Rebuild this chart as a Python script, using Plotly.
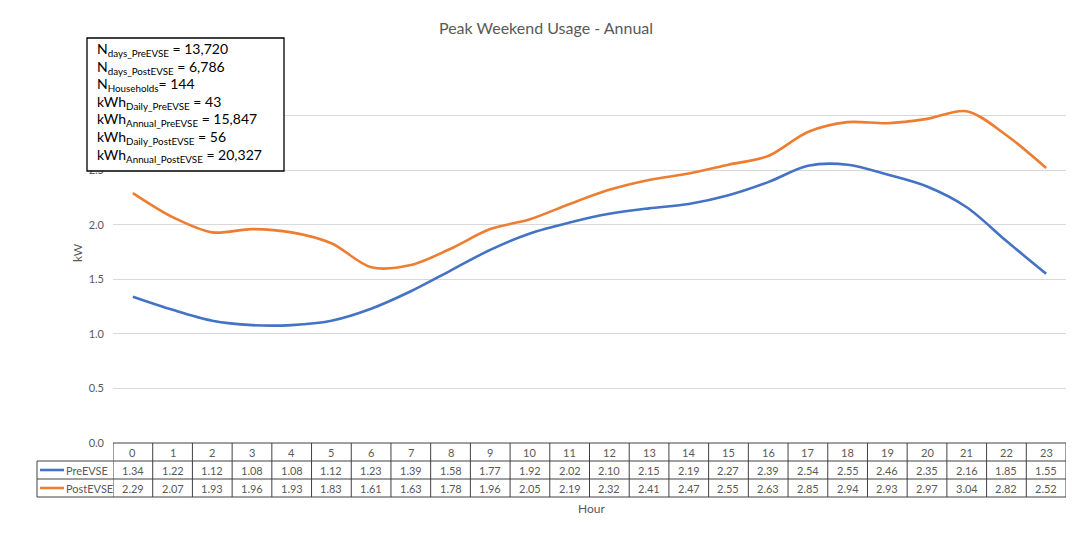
import plotly.graph_objects as go

hours = list(range(24))
pre_evse = [1.34, 1.22, 1.12, 1.08, 1.08, 1.12, 1.23, 1.39, 1.58, 1.77, 1.92, 2.02,
            2.10, 2.15, 2.19, 2.27, 2.39, 2.54, 2.55, 2.46, 2.35, 2.16, 1.85, 1.55]
post_evse = [2.29, 2.07, 1.93, 1.96, 1.93, 1.83, 1.61, 1.63, 1.78, 1.96, 2.05, 2.19,
             2.32, 2.41, 2.47, 2.55, 2.63, 2.85, 2.94, 2.93, 2.97, 3.04, 2.82, 2.52]
series_names = ["PreEVSE", "PostEVSE"]
series_colors = ["#4472C4", "#ED7D31"]
y_ticks = [0.0, 0.5, 1.0, 1.5, 2.0, 2.5, 3.0, 3.5]
info_lines = [
    "N<sub>days_PreEVSE</sub> = 13,720",
    "N<sub>days_PostEVSE</sub> = 6,786",
    "N<sub>Households</sub>= 144",
    "kWh<sub>Daily_PreEVSE</sub> = 43",
    "kWh<sub>Annual_PreEVSE</sub> = 15,847",
    "kWh<sub>Daily_PostEVSE</sub> = 56",
    "kWh<sub>Annual_PostEVSE</sub> = 20,327",
]

# page offset (browser body margin)
O = 8
W, H = 1077 - O, 538 - O
# reference pixel geometry
PL, PR, PT, PB = 113, 1066, 61, 443
L, R, T, B = PL - O, W - (PR - O), PT - O, H - (PB - O)
PW = W - L - R
PH = H - T - B
FONT = "Lato, 'Open Sans', sans-serif"
GREY = "#595959"

def px_x(px):
    return (px - PL) / PW

def px_y(py):
    return (PB - py) / PH

fig = go.Figure()
for name, vals, col in zip(series_names, [pre_evse, post_evse], series_colors):
    fig.add_trace(go.Scatter(x=hours, y=vals, mode="lines", name=name,
                             line=dict(color=col, width=2.6, shape="spline", smoothing=0.9),
                             showlegend=False))

shapes = []
annots = []
line_col = "#404040"
row_h = 18
rows_y = [PB, PB + row_h, PB + 2 * row_h, PB + 3 * row_h]
shapes.append(dict(type="line", xref="x", yref="paper", x0=-0.5, x1=23.5,
                   y0=px_y(rows_y[0]), y1=px_y(rows_y[0]), line=dict(color=line_col, width=1)))
for ry in rows_y[1:]:
    shapes.append(dict(type="line", xref="paper", yref="paper", x0=px_x(37), x1=1,
                       y0=px_y(ry), y1=px_y(ry), line=dict(color=line_col, width=1)))
shapes.append(dict(type="line", xref="paper", yref="paper", x0=px_x(37), x1=px_x(37),
                   y0=px_y(rows_y[1]), y1=px_y(rows_y[3]), line=dict(color=line_col, width=1)))
for i in range(25):
    shapes.append(dict(type="line", xref="x", yref="paper", x0=i - 0.5, x1=i - 0.5,
                       y0=px_y(rows_y[0]), y1=px_y(rows_y[3]), line=dict(color=line_col, width=1)))

cell_font = dict(family=FONT, size=11, color=GREY)
for i, h in enumerate(hours):
    annots.append(dict(x=h, y=px_y(rows_y[0] + row_h / 2), xref="x", yref="paper",
                       text=str(h), showarrow=False, xanchor="center", yanchor="middle",
                       font=cell_font))
    for r, vals in enumerate([pre_evse, post_evse]):
        annots.append(dict(x=h, y=px_y(rows_y[r + 1] + row_h / 2), xref="x", yref="paper",
                           text=f"{vals[i]:.2f}", showarrow=False, xanchor="center",
                           yanchor="middle", font=cell_font))
for r, (name, col) in enumerate(zip(series_names, series_colors)):
    cy = px_y(rows_y[r + 1] + row_h / 2)
    shapes.append(dict(type="line", xref="paper", yref="paper", x0=px_x(40), x1=px_x(64),
                       y0=cy, y1=cy, line=dict(color=col, width=2.6)))
    annots.append(dict(x=px_x(64), y=cy, xref="paper", yref="paper", text=name,
                       showarrow=False, xanchor="left", yanchor="middle", font=cell_font))

shapes.append(dict(type="rect", xref="paper", yref="paper", x0=px_x(87), x1=px_x(284),
                   y0=px_y(171), y1=px_y(38), line=dict(color="#000000", width=1.3),
                   fillcolor="white", layer="above"))
for k, t in enumerate(info_lines):
    annots.append(dict(x=px_x(95), y=px_y(50 + k * 17.5), xref="paper", yref="paper",
                       text=t, showarrow=False, xanchor="left", yanchor="middle",
                       font=dict(family=FONT, size=14, color="#000000")))

annots.append(dict(x=px_x(591), y=px_y(508), xref="paper", yref="paper", text="Hour",
                   showarrow=False, xanchor="center", yanchor="middle",
                   font=dict(family=FONT, size=12, color=GREY)))
annots.append(dict(x=px_x(77), y=px_y(253), xref="paper", yref="paper", text="kW",
                   showarrow=False, textangle=-90, xanchor="center", yanchor="middle",
                   font=dict(family=FONT, size=12, color=GREY)))

fig.update_layout(
    width=W, height=H,
    margin=dict(l=L, r=R, t=T, b=B, pad=0),
    paper_bgcolor="white", plot_bgcolor="white",
    title=dict(text="Peak Weekend Usage - Annual", x=(546 - O) / W, xanchor="center",
               y=1 - (28 - O) / H, yanchor="middle", font=dict(family=FONT, size=16, color=GREY)),
    xaxis=dict(range=[-0.5, 23.5], showticklabels=False, showgrid=False, zeroline=False,
               ticks="", showline=False),
    yaxis=dict(range=[0, 3.5], tickvals=y_ticks, tickformat=".1f", showgrid=True,
               gridcolor="#D9D9D9", gridwidth=1, zeroline=False, showline=False,
               ticks="", ticklabelstandoff=8,
               tickfont=dict(family=FONT, size=11, color=GREY)),
    shapes=shapes, annotations=annots,
)
fig.write_html("out.html")
